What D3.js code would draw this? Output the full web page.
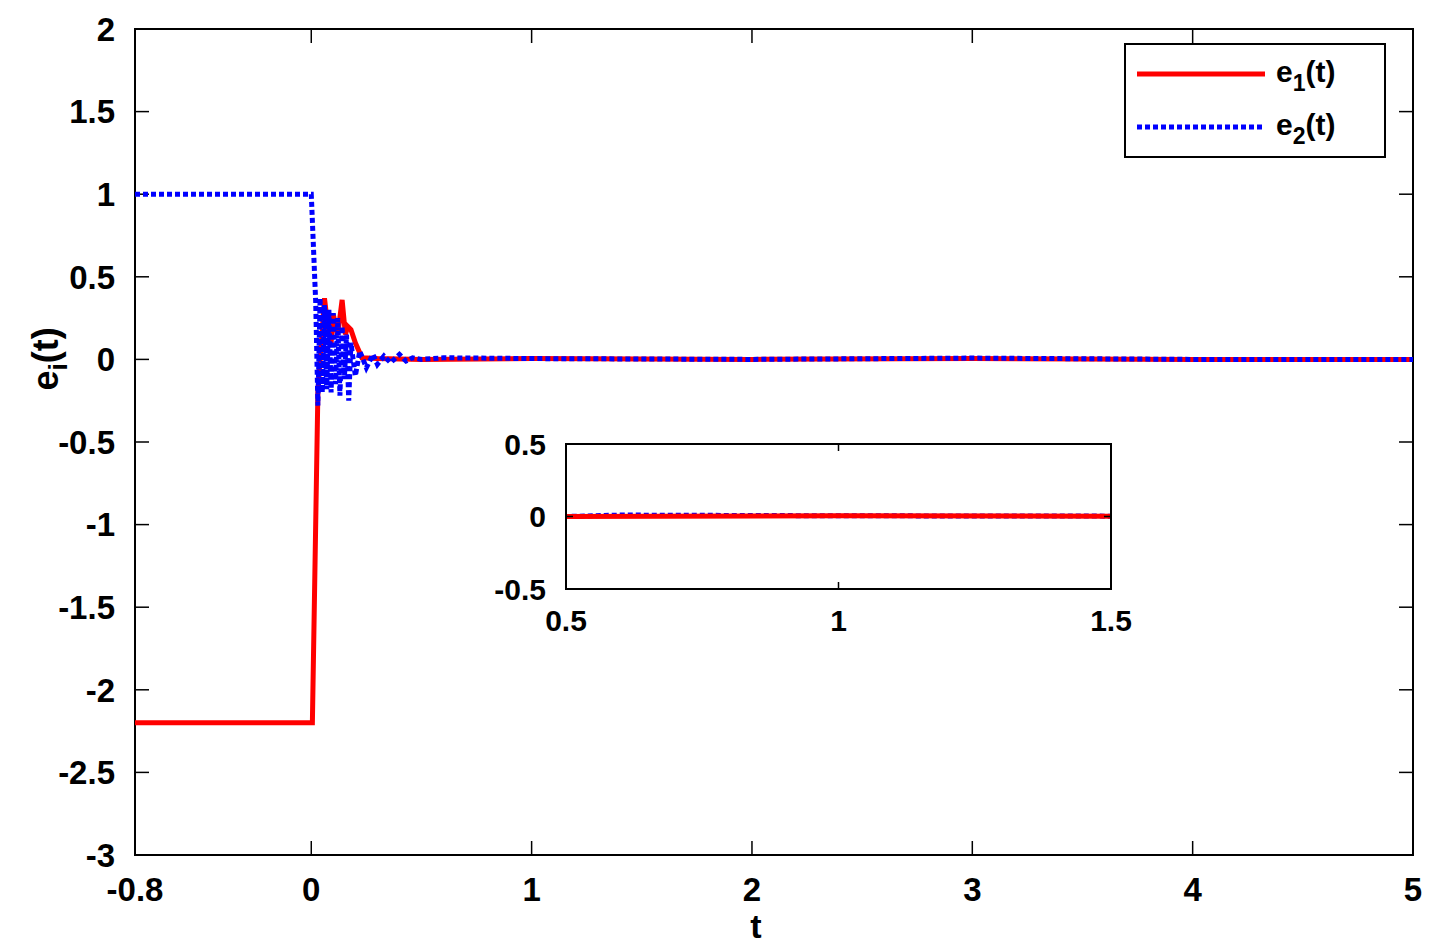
<!DOCTYPE html>
<html><head><meta charset="utf-8">
<script src="https://cdn.jsdelivr.net/npm/d3@7"></script>
<style>body{margin:0;background:#fff}</style>
</head><body><div id="canvas"></div>
<script>
var w = 1438, h = 950;

// e1(t) samples
var e1T = [-0.8, 0, 0.005, 0.03, 0.06, 0.075, 0.09, 0.1, 0.12, 0.14, 0.155, 0.165, 0.18, 0.2, 0.23, 0.3, 0.5, 1, 2, 3, 4, 5];
var e1V = [-2.2, -2.2, -2.2, -0.2, 0.37, 0.2, 0.1, 0.27, 0.15, 0.36, 0.15, 0.2, 0.18, 0.1, 0.01, 0.005, 0.0, 0.005, 0.0, 0.005, 0.0, 0.0];
// e2(t) samples
var e2T = [-0.8, 0, 0.02, 0.03, 0.04, 0.05, 0.06, 0.07, 0.08, 0.09, 0.1, 0.11, 0.12, 0.13, 0.14, 0.15, 0.16, 0.17, 0.18, 0.2, 0.22, 0.25, 0.28, 0.3, 0.33, 0.36, 0.4, 0.43, 0.46, 0.5, 0.6, 1, 2, 3, 4, 5];
var e2V = [1, 1, 0.35, -0.28, 0.37, -0.2, 0.33, -0.18, 0.3, -0.2, 0.28, -0.15, 0.25, -0.22, 0.2, -0.12, 0.15, -0.25, 0.1, -0.1, 0.05, -0.05, 0.03, -0.03, 0.02, -0.02, 0.03, -0.01, 0.01, 0.0, 0.01, 0.005, 0.0, 0.008, 0.0, 0.0];

var xTicks = [-0.8, 0, 1, 2, 3, 4, 5];
var yTicks = [-3, -2.5, -2, -1.5, -1, -0.5, 0, 0.5, 1, 1.5, 2];

var svg = d3.select("#canvas").append("svg").attr("width", w).attr("height", h)
    .style("font-family", "Liberation Sans, Arial, sans-serif").style("font-weight", "bold");

var x = d3.scaleLinear().domain([-0.8, 5]).range([135, 1413]);
var y = d3.scaleLinear().domain([-3, 2]).range([855, 29]);

function drawAxes(g, xs, ys, xt, yt, fs, tl, xoff) {
    var x0 = xs.range()[0], x1 = xs.range()[1], y0 = ys.range()[0], y1 = ys.range()[1];
    g.append("rect").attr("x", x0).attr("y", y1).attr("width", x1 - x0).attr("height", y0 - y1)
        .attr("fill", "none").attr("stroke", "#000").attr("stroke-width", 2);
    xt.forEach(function (t) {
        g.append("line").attr("x1", xs(t)).attr("x2", xs(t)).attr("y1", y0).attr("y2", y0 - tl).attr("stroke", "#000").attr("stroke-width", 1.5);
        g.append("line").attr("x1", xs(t)).attr("x2", xs(t)).attr("y1", y1).attr("y2", y1 + tl).attr("stroke", "#000").attr("stroke-width", 1.5);
        g.append("text").attr("x", xs(t)).attr("y", y0 + xoff).attr("text-anchor", "middle").style("font-size", fs + "px").text(t);
    });
    yt.forEach(function (t) {
        g.append("line").attr("x1", x0).attr("x2", x0 + tl).attr("y1", ys(t)).attr("y2", ys(t)).attr("stroke", "#000").attr("stroke-width", 1.5);
        g.append("line").attr("x1", x1).attr("x2", x1 - tl).attr("y1", ys(t)).attr("y2", ys(t)).attr("stroke", "#000").attr("stroke-width", 1.5);
        g.append("text").attr("x", x0 - 20).attr("y", ys(t)).attr("dy", "0.36em").attr("text-anchor", "end").style("font-size", fs + "px").text(t);
    });
}

function drawLines(g, xs, ys, clip, redTop) {
    var l1 = d3.range(e1T.length).map(function (i) { return [e1T[i], e1V[i]]; });
    var l2 = d3.range(e2T.length).map(function (i) { return [e2T[i], e2V[i]]; });
    var line = d3.line().x(function (d) { return xs(d[0]); }).y(function (d) { return ys(d[1]); });
    var gg = g.append("g");
    if (clip) gg.attr("clip-path", "url(#" + clip + ")");
    function red() { gg.append("path").attr("d", line(l1)).attr("fill", "none").attr("stroke", "red").attr("stroke-width", 5); }
    function blue() { gg.append("path").attr("d", line(l2)).attr("fill", "none").attr("stroke", "blue").attr("stroke-width", 5).attr("stroke-dasharray", "5,3"); }
    if (redTop) { blue(); red(); } else { red(); blue(); }
}

drawAxes(svg, x, y, xTicks, yTicks, 33, 14, 46);
drawLines(svg, x, y, null, false);

svg.append("text").attr("x", 756).attr("y", 938).attr("text-anchor", "middle").style("font-size", "34px").text("t");
var yl = svg.append("text").attr("transform", "translate(58,359) rotate(-90)").attr("text-anchor", "middle").style("font-size", "36px");
yl.append("tspan").text("e");
yl.append("tspan").attr("dy", 9).style("font-size", "26px").text("i");
yl.append("tspan").attr("dy", -9).text("(t)");

// inset
var xi = d3.scaleLinear().domain([0.5, 1.5]).range([566, 1111]);
var yi = d3.scaleLinear().domain([-0.5, 0.5]).range([589, 444]);
svg.append("rect").attr("x", 566).attr("y", 444).attr("width", 545).attr("height", 145).attr("fill", "#fff");
svg.append("clipPath").attr("id", "ic").append("rect").attr("x", 566).attr("y", 444).attr("width", 545).attr("height", 145);
drawLines(svg, xi, yi, "ic", true);
drawAxes(svg, xi, yi, [0.5, 1, 1.5], [-0.5, 0, 0.5], 30, 7, 42);

// legend
var lg = svg.append("g");
lg.append("rect").attr("x", 1125).attr("y", 44).attr("width", 260).attr("height", 113).attr("fill", "#fff").attr("stroke", "#000").attr("stroke-width", 2);
[["red", null, "1"], ["blue", "5,3", "2"]].forEach(function (d, i) {
    var yy = 74 + i * 53;
    lg.append("line").attr("x1", 1137).attr("x2", 1265).attr("y1", yy).attr("y2", yy).attr("stroke", d[0]).attr("stroke-width", 5).attr("stroke-dasharray", d[1]);
    var t = lg.append("text").attr("x", 1276).attr("y", yy + 8).style("font-size", "30px");
    t.append("tspan").text("e");
    t.append("tspan").attr("dy", 9).style("font-size", "23px").text(d[2]);
    t.append("tspan").attr("dy", -9).text("(t)");
});
</script></body></html>
